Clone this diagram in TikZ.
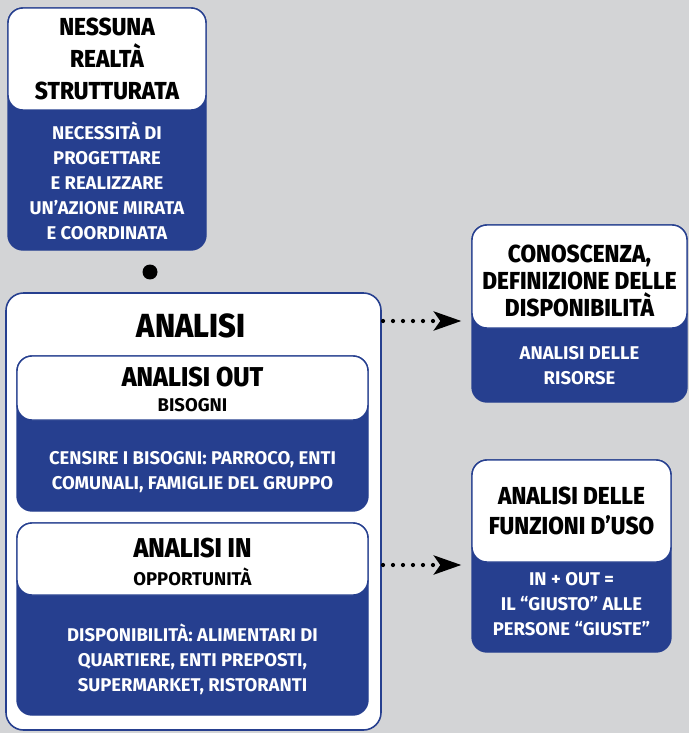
\documentclass[tikz,border=0pt]{standalone}
\usepackage{fontspec}
\setmainfont{Fira Sans}[FakeStretch=0.92, BoldFont={Fira Sans ExtraBold}]
\newfontfamily\plainfont{Fira Sans}
\usetikzlibrary{positioning, fit, calc, arrows.meta}
\definecolor{boxblue}{RGB}{38,63,143}
\definecolor{backgray}{RGB}{211,212,214}

\begin{document}
\begin{tikzpicture}[x=0.02cm, y=-0.02cm]

% Styles for boxes
\tikzstyle{card} = [rectangle, draw=boxblue, fill=boxblue, line width=0.8pt, rounded corners=0.3cm, inner sep=0pt]
\tikzstyle{topcap} = [rectangle, draw=boxblue, fill=white, line width=0.8pt, rounded corners=0.3cm, inner sep=0pt]
\tikzstyle{frame} = [rectangle, draw=boxblue, fill=white, line width=0.9pt, rounded corners=0.35cm, inner sep=0pt]
\tikzstyle{title} = [align=center, inner sep=0pt, font=\fontsize{14}{18.2}\selectfont\bfseries]
\tikzstyle{head} = [align=center, inner sep=0pt, font=\fontsize{15.5}{18}\selectfont\bfseries]
\tikzstyle{sub} = [align=center, inner sep=0pt, font=\plainfont\fontsize{10.5}{13}\selectfont\bfseries]
\tikzstyle{note} = [align=center, inner sep=0pt, text=white, font=\plainfont\fontsize{10.5}{14.2}\selectfont\bfseries]
\tikzstyle{dotarrow} = [line width=2.4pt, line cap=round, dash pattern=on 0pt off 0.2cm, shorten >=0.2cm, -{Stealth[length=0.55cm, width=0.38cm, inset=0.13cm]}]

% Background
\fill[backgray] (0,0) rectangle (689,733);

% Nodes
\node[card, fit={(8,8) (206,250)}] (nessuna) {};
\node[topcap, fit={(8,8) (206,110)}] (nessunatop) {};
\node[title] (nessunatitle) at (nessunatop.center) {NESSUNA\\REALTÀ\\STRUTTURATA};
\node[note] (nessunanote) at ($(nessunatop.south)!0.5!(nessuna.south)$) {NECESSITÀ DI\\PROGETTARE\\E REALIZZARE\\UN’AZIONE MIRATA\\E COORDINATA};

\node[circle, fill=black, inner sep=0pt, minimum size=0.3cm] (link) at (150,272) {};

\node[frame, fit={(6,293) (381,730)}] (analisi) {};
\node[font=\fontsize{19}{22}\selectfont\bfseries, inner sep=0pt] (analisititle) at (191,326) {ANALISI};

\node[card, fit={(17,356) (368,511)}] (out) {};
\node[topcap, fit={(17,356) (368,420)}] (outtop) {};
\node[head] (outtitle) at (192.5,377) {ANALISI OUT};
\node[sub] (outsub) at (192.5,405) {BISOGNI};
\node[note, yshift=-3.5pt] (outnote) at ($(outtop.south)!0.5!(out.south)$) {CENSIRE I BISOGNI: PARROCO, ENTI\\COMUNALI, FAMIGLIE DEL GRUPPO};

\node[card, fit={(17,523) (368,715)}] (in) {};
\node[topcap, fit={(17,523) (368,595)}] (intop) {};
\node[head] (intitle) at (192.5,548) {ANALISI IN};
\node[sub] (insub) at (192.5,577) {OPPORTUNITÀ};
\node[note, yshift=-2pt] (innote) at ($(intop.south)!0.5!(in.south)$) {DISPONIBILITÀ: ALIMENTARI DI\\QUARTIERE, ENTI PREPOSTI,\\SUPERMARKET, RISTORANTI};

\node[card, fit={(472,225) (687,402)}] (conosc) {};
\node[topcap, fit={(472,225) (687,328)}] (conosctop) {};
\node[title, font=\fontsize{14}{15.6}\selectfont\bfseries, yshift=-2.5pt] (conosctitle) at (conosctop.center) {CONOSCENZA,\\DEFINIZIONE DELLE\\DISPONIBILITÀ};
\node[note] (conoscnote) at ($(conosctop.south)!0.5!(conosc.south)$) {ANALISI DELLE\\RISORSE};

\node[card, fit={(472,460) (671,652)}] (funz) {};
\node[topcap, fit={(472,460) (671,562)}] (funztop) {};
\node[title, font=\fontsize{14}{17}\selectfont\bfseries] (funztitle) at (funztop.center) {ANALISI DELLE\\FUNZIONI D’USO};
\node[note, yshift=2pt] (funznote) at ($(funztop.south)!0.5!(funz.south)$) {IN + OUT =\\IL “GIUSTO” ALLE\\PERSONE “GIUSTE”};

% Edges
\coordinate (outstart) at (383,321);
\coordinate (instart) at (383,565);
\draw[dotarrow] (outstart) -- (outstart -| conosc.west);
\draw[dotarrow] (instart) -- (instart -| funz.west);

\end{tikzpicture}
\end{document}
